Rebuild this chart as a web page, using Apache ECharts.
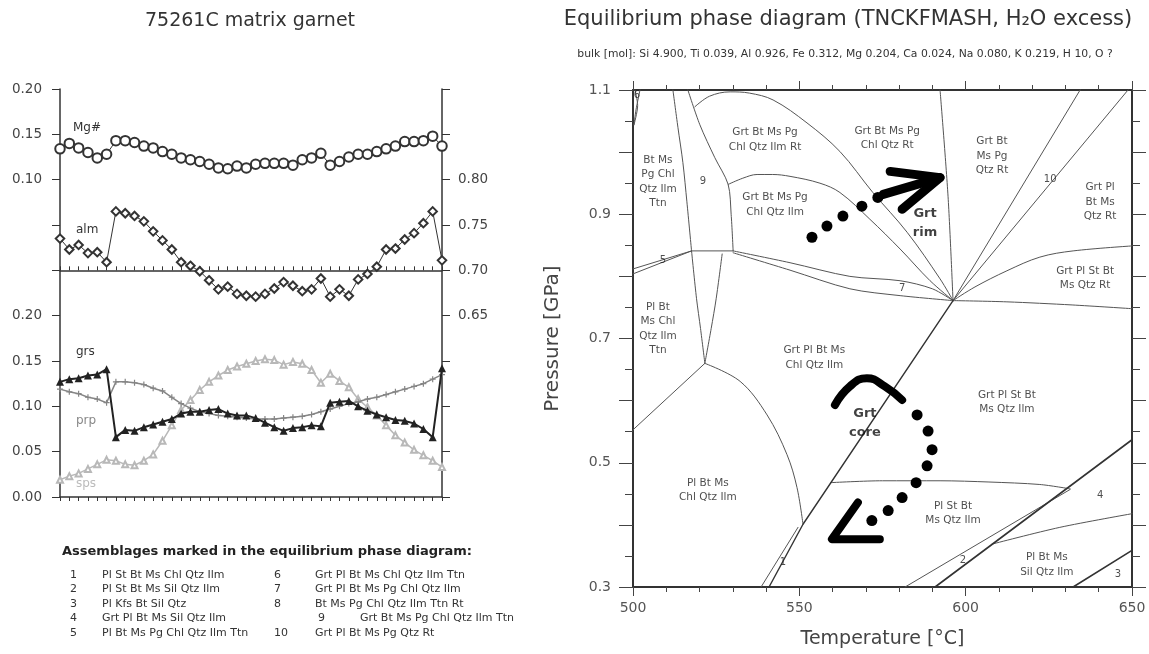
<!DOCTYPE html>
<html><head><meta charset="utf-8">
<script src="https://cdn.jsdelivr.net/npm/echarts@6/dist/echarts.min.js"></script>
<style>html,body{margin:0;padding:0;background:#fff}#c{width:1149px;height:654px}</style>
</head><body><div id="c"></div>
<script>
// ---------- Left panel: garnet profile (42 analysis spots) ----------
const spots = ['1','2','3','4','5','6','7','8','9','10','11','12','13','14','15','16','17','18','19','20','21','22','23','24','25','26','27','28','29','30','31','32','33','34','35','36','37','38','39','40','41','42'];
const mgNum = [0.134,0.140,0.135,0.130,0.124,0.128,0.143,0.143,0.141,0.137,0.135,0.131,0.128,0.124,0.122,0.120,0.117,0.113,0.112,0.115,0.113,0.117,0.118,0.118,0.118,0.116,0.122,0.124,0.129,0.116,0.120,0.125,0.128,0.128,0.131,0.134,0.137,0.142,0.142,0.143,0.148,0.137];
const alm = [0.735,0.723,0.728,0.719,0.720,0.709,0.765,0.763,0.760,0.754,0.743,0.733,0.723,0.709,0.705,0.699,0.689,0.679,0.682,0.674,0.672,0.671,0.674,0.680,0.687,0.683,0.677,0.679,0.691,0.671,0.679,0.672,0.690,0.696,0.704,0.723,0.724,0.734,0.741,0.752,0.765,0.711];
const grs = [0.127,0.130,0.131,0.134,0.135,0.141,0.066,0.074,0.073,0.077,0.080,0.083,0.086,0.092,0.094,0.094,0.096,0.097,0.092,0.090,0.090,0.087,0.082,0.077,0.073,0.076,0.077,0.079,0.078,0.104,0.105,0.106,0.100,0.095,0.091,0.088,0.085,0.084,0.081,0.075,0.066,0.142];
const prp = [0.119,0.116,0.114,0.110,0.108,0.104,0.127,0.127,0.126,0.124,0.120,0.117,0.110,0.103,0.098,0.094,0.092,0.090,0.089,0.088,0.087,0.086,0.086,0.086,0.087,0.088,0.089,0.091,0.094,0.097,0.100,0.103,0.105,0.108,0.110,0.113,0.116,0.119,0.122,0.125,0.130,0.135];
const sps = [0.019,0.023,0.026,0.031,0.036,0.041,0.040,0.036,0.035,0.040,0.047,0.062,0.079,0.096,0.107,0.118,0.127,0.134,0.140,0.144,0.147,0.150,0.152,0.151,0.146,0.149,0.147,0.140,0.126,0.136,0.128,0.121,0.108,0.099,0.090,0.079,0.068,0.060,0.052,0.046,0.040,0.033];

// ---------- Right panel: phase boundaries [T (°C), P (GPa)] ----------
const bnd6a = [[502.1,1.1],[500.9,1.068],[500.3,1.044]];
const bnd6b = [[500.6,1.1],[501.4,1.075],[500.3,1.044]];
const bndA = [[512.0,1.1],[513.5,1.04],[515.0,0.983],[516.2,0.92],[517.6,0.841]];
const bndB = [[516.5,1.1],[520.1,1.044],[524.6,0.991],[528.6,0.948],[529.5,0.9],[530.1,0.841]];
const bndTop = [[518.6,1.073],[523.0,1.090],[529.2,1.097],[535.0,1.095],[542.1,1.084],[552.3,1.047],[562.2,1.001],[572.1,0.935],[582.4,0.871],[592.3,0.796],[596.2,0.761]];
const bndMid = [[528.6,0.948],[533.0,0.958],[537.3,0.964],[542.0,0.964],[547.2,0.961],[556.2,0.950],[562.2,0.935],[571.2,0.892],[580.3,0.844],[589.3,0.793],[596.2,0.761]];
const bndFlat = [[517.6,0.841],[530.1,0.841]];
const bnd5a = [[500,0.812],[517.6,0.841]];
const bnd5b = [[500,0.804],[517.6,0.841]];
const bndV1 = [[517.6,0.841],[519.1,0.764],[520.3,0.716],[521.6,0.66]];
const bndV2 = [[526.8,0.836],[525.0,0.764],[523.5,0.716],[521.6,0.66]];
const bnd7a = [[530.1,0.841],[547.2,0.822],[565.2,0.800],[580.3,0.793],[590.0,0.780],[596.2,0.761]];
const bnd7b = [[530.1,0.838],[547.2,0.810],[565.2,0.780],[580.3,0.769],[596.2,0.761]];
const bndLow = [[521.6,0.66],[500,0.553]];
const bndArc = [[521.6,0.66],[532.2,0.631],[540.3,0.577],[546.3,0.513],[549.3,0.46],[551.1,0.401]];
const bndR = [[540.9,0.3],[551.1,0.401],[596.2,0.761]];
const bndR1 = [[538.5,0.3],[549.6,0.396]];
const bndU1 = [[592.3,1.1],[594.7,0.929],[596.2,0.761]];
const bndU2 = [[596.2,0.761],[634.4,1.1]];
const bndU3 = [[596.2,0.761],[648.8,1.1]];
const bndU4 = [[596.2,0.761],[602.8,0.783],[612.4,0.809],[622.3,0.831],[632.3,0.841],[650,0.849]];
const bndU5 = [[596.2,0.761],[612.4,0.759],[632.0,0.754],[650,0.748]];
const bndH = [[559.5,0.468],[575.0,0.471],[592.3,0.471],[607.0,0.469],[622.3,0.465],[631.4,0.458]];
const bnd2 = [[581.8,0.3],[631.4,0.457]];
const bnd4 = [[590.8,0.3],[650,0.537]];
const bndC = [[607.9,0.369],[628.3,0.396],[650,0.418]];
const bnd3 = [[632.3,0.3],[650,0.359]];

// P-T path
const coreArc = [[560.7,0.593],[565.2,0.623],[570.3,0.636],[575.7,0.623],[580.9,0.601]];
const retroDots = [[585.4,0.577],[588.7,0.551],[589.9,0.521],[588.4,0.495],[585.1,0.468],[580.9,0.444],[576.7,0.423],[571.8,0.407]];
const retroArrow = [[567.6,0.436],[559.8,0.377],[574.2,0.377]];
const progDots = [[553.8,0.863],[558.3,0.881],[563.1,0.897],[568.8,0.913],[573.6,0.927]];
const progShaft = [[575.2,0.932],[592.3,0.959]];
const progHead = [[577.3,0.969],[592.3,0.959],[580.9,0.908]];

// Field labels
const fieldLabels = [
 [507.5,0.952,'Bt Ms\nPg Chl\nQtz Ilm\nTtn'],
 [539.7,1.020,'Grt Bt Ms Pg\nChl Qtz Ilm Rt'],
 [542.7,0.915,'Grt Bt Ms Pg\nChl Qtz Ilm'],
 [576.4,1.022,'Grt Bt Ms Pg\nChl Qtz Rt'],
 [607.9,0.994,'Grt Bt\nMs Pg\nQtz Rt'],
 [640.4,0.920,'Grt Pl\nBt Ms\nQtz Rt'],
 [635.9,0.797,'Grt Pl St Bt\nMs Qtz Rt'],
 [507.5,0.716,'Pl Bt\nMs Chl\nQtz Ilm\nTtn'],
 [554.5,0.669,'Grt Pl Bt Ms\nChl Qtz Ilm'],
 [612.4,0.597,'Grt Pl St Bt\nMs Qtz Ilm'],
 [522.5,0.456,'Pl Bt Ms\nChl Qtz Ilm'],
 [596.2,0.419,'Pl St Bt\nMs Qtz Ilm'],
 [624.4,0.336,'Pl Bt Ms\nSil Qtz Ilm']
];
const numLabels = [[545.1,0.340,'1'],[599.2,0.343,'2'],[645.8,0.321,'3'],[640.4,0.447,'4'],[509.0,0.825,'5'],[501.2,1.092,'6'],[580.9,0.780,'7'],[521.0,0.953,'9'],[625.4,0.956,'10']];
const pathLabels = [[569.7,0.564,'Grt\ncore'],[587.8,0.886,'Grt\nrim']];

const yLabelsP = [0.3,0.5,0.7,0.9,1.1];
const assemblages = [
 ['1','Pl St Bt Ms Chl Qtz Ilm','6','Grt Pl Bt Ms Chl Qtz Ilm Ttn'],
 ['2','Pl St Bt Ms Sil Qtz Ilm','7','Grt Pl Bt Ms Pg Chl Qtz Ilm'],
 ['3','Pl Kfs Bt Sil Qtz','8','Bt Ms Pg Chl Qtz Ilm Ttn Rt'],
 ['4','Grt Pl Bt Ms Sil Qtz Ilm','9','Grt Bt Ms Pg Chl Qtz Ilm Ttn'],
 ['5','Pl Bt Ms Pg Chl Qtz Ilm Ttn','10','Grt Pl Bt Ms Pg Qtz Rt']
];

const FONT = 'DejaVu Sans';
const chart = echarts.init(document.getElementById('c'));

function bLine(data, opt) {
  opt = opt || {};
  return {type:'line', data:data, xAxisIndex:2, yAxisIndex:3, symbol:'none', showSymbol:false,
    smooth: opt.smooth || false, silent:true, animation:false, clip:false, z: opt.z || 2,
    lineStyle:{color: opt.color || '#555', width: opt.width || 1, cap:'round', join:'round', opacity:1}};
}
const boundaries = [
  [bnd6a,0.3],[bnd6b,0.3],[bndA,0.3],[bndB,0.3],[bndTop,0.35],[bndMid,0.35],[bndFlat,0],[bnd5a,0],[bnd5b,0],
  [bndV1,0.3],[bndV2,0.3],[bnd7a,0.3],[bnd7b,0.3],[bndLow,0],[bndArc,0.35],[bndR1,0],[bndU1,0.3],
  [bndU2,0],[bndU3,0],[bndU4,0.35],[bndU5,0.3],[bndH,0.3],[bnd2,0],[bndC,0.3]
];
const series = [];
function prof(name, data, yi, sym, size, color, lw, z) {
  return {type:'line', name:name, data:data, xAxisIndex:0, yAxisIndex:yi, symbol:sym, symbolSize:size,
    showSymbol:true, showAllSymbol:true, itemStyle:{color:color, borderWidth:1.1, opacity:1}, lineStyle:{color:color, width:lw},
    animation:false, z:z};
}
series.push(prof('Mg#', mgNum, 1, 'emptyCircle', 9.5, '#333', 1, 3));
series.push(prof('alm', alm, 2, 'emptyDiamond', 8.5, '#333', 1, 3));
series.push(prof('sps', sps, 0, 'emptyTriangle', 6, '#b8b8b8', 1.5, 2));
series.push(prof('prp', prp, 0, 'path://M4,0h2v4h4v2h-4v4h-2v-4h-4v-2h4z', 6, '#858585', 1.5, 3));
series.push(prof('grs', grs, 0, 'triangle', 8, '#222', 2, 4));
// right panel boundaries
boundaries.forEach(function(b){ series.push(bLine(b[0], {smooth:b[1]})); });
series.push(bLine(bndR, {width:1.4, color:'#333'}));
series.push(bLine(bnd4, {width:1.6, color:'#333'}));
series.push(bLine(bnd3, {width:1.6, color:'#333'}));
// P-T path
series.push(bLine(coreArc, {width:8, color:'#000', smooth:0.5, z:5}));
series.push(bLine(retroArrow, {width:8, color:'#000', z:5}));
series.push(bLine(progShaft, {width:9, color:'#000', z:5}));
series.push(bLine(progHead, {width:9, color:'#000', z:5}));
series.push({type:'scatter', data:retroDots.concat(progDots), xAxisIndex:2, yAxisIndex:3, symbol:'circle', symbolSize:11,
  itemStyle:{color:'#000', opacity:1}, silent:true, animation:false, z:5});
function textSeries(data, style, z) {
  return {type:'scatter', data:data, xAxisIndex:2, yAxisIndex:3, symbolSize:1, itemStyle:{color:'rgba(0,0,0,0)'},
    silent:true, animation:false, clip:false, z:z || 6,
    label:Object.assign({show:true, position:'inside', formatter:function(p){return p.value[2];}, fontFamily:FONT, align:'center', verticalAlign:'middle'}, style)};
}
series.push(textSeries(fieldLabels, {fontSize:10.5, lineHeight:14.5, color:'#222'}));
series.push(textSeries(numLabels, {fontSize:10, color:'#222'}));
series.push(textSeries(pathLabels, {fontSize:13, fontWeight:'bold', lineHeight:19, color:'#111'}));

// graphics (titles, series names, assemblage list)
const graphics = [];
function txt(x, y, t, o) {
  o = o || {};
  graphics.push({type:'text', x:x, y:y, silent:true, style:{text:t, fontFamily:FONT, fontSize:o.size||12,
    fontWeight:o.weight||'normal', fill:o.color||'#333', align:o.align||'left', verticalAlign:'middle'}});
}
txt(250, 21, '75261C matrix garnet', {size:19, align:'center', color:'#333'});
txt(848, 20, 'Equilibrium phase diagram (TNCKFMASH, H\u2082O excess)', {size:21, align:'center', color:'#333'});
txt(845, 54, 'bulk [mol]: Si 4.900, Ti 0.039, Al 0.926, Fe 0.312, Mg 0.204, Ca 0.024, Na 0.080, K 0.219, H 10, O ?', {size:10.8, align:'center', color:'#333'});
txt(73, 128, 'Mg#', {size:12, color:'#333'});
txt(76, 230, 'alm', {size:12, color:'#333'});
txt(76, 352, 'grs', {size:12, color:'#333'});
txt(76, 421, 'prp', {size:12, color:'#888'});
txt(76, 484, 'sps', {size:12, color:'#bbb'});
txt(62, 552, 'Assemblages marked in the equilibrium phase diagram:', {size:13, weight:'bold', color:'#222'});
assemblages.forEach(function(r, i){
  const y = 575 + i*14.5;
  const o = {size:11};
  txt(70, y, r[0], o);
  txt(102, y, r[1], o);
  if (i === 3) { txt(318, y, r[2], o); txt(360, y, r[3], o); }
  else { txt(274, y, r[2], o); txt(315, y, r[3], o); }
});

const axLine = {show:true, lineStyle:{color:'#333', width:1.5}};
const option = {
  backgroundColor:'#fff',
  animation:false,
  grid:[{left:60, top:89, width:382, height:408}, {left:633, top:90, width:499, height:500}],
  xAxis:[
    {type:'category', gridIndex:0, data:spots, boundaryGap:false, position:'bottom', axisLine:axLine,
      axisTick:{show:true, interval:0, length:4, lineStyle:{color:'#333'}}, axisLabel:{show:false}, splitLine:{show:false}},
    {type:'category', gridIndex:0, data:spots, boundaryGap:false, position:'top', axisLine:axLine,
      axisTick:{show:true, interval:0, length:4, lineStyle:{color:'#333'}}, axisLabel:{show:false}, splitLine:{show:false}},
    {type:'value', gridIndex:1, min:500, max:650, interval:50, position:'bottom',
      name:'Temperature [\u00B0C]', nameLocation:'middle', nameGap:43, nameTextStyle:{fontFamily:FONT, fontSize:19, color:'#444'},
      axisLine:{show:true, lineStyle:{color:'#333', width:2}},
      axisTick:{show:true, length:9, lineStyle:{color:'#444'}}, minorTick:{show:true, splitNumber:5, length:5, lineStyle:{color:'#444'}},
      axisLabel:{show:true, margin:14, fontFamily:FONT, fontSize:14, color:'#555'}, splitLine:{show:false}, minorSplitLine:{show:false}},
    {type:'value', gridIndex:1, min:500, max:650, interval:50, position:'top',
      axisLine:{show:true, lineStyle:{color:'#333', width:2}},
      axisTick:{show:true, length:9, lineStyle:{color:'#444'}}, minorTick:{show:true, splitNumber:5, length:5, lineStyle:{color:'#444'}},
      axisLabel:{show:false}, splitLine:{show:false}, minorSplitLine:{show:false}}
  ],
  yAxis:[
    {type:'value', gridIndex:0, min:0, max:0.45, interval:0.05, position:'left', axisLine:axLine,
      axisTick:{show:true, length:8, lineStyle:{color:'#333'}},
      axisLabel:{show:true, margin:18, fontFamily:FONT, fontSize:13.5, color:'#444',
        formatter:function(v){ return v < 0.201 ? v.toFixed(2) : ''; }}, splitLine:{show:false}},
    {type:'value', gridIndex:0, min:-0.25, max:0.20, interval:0.05, position:'left', axisLine:{show:false}, axisTick:{show:false},
      axisLabel:{show:true, margin:18, fontFamily:FONT, fontSize:13.5, color:'#444',
        formatter:function(v){ return v > 0.099 ? v.toFixed(2) : ''; }}, splitLine:{show:false}},
    {type:'value', gridIndex:0, min:0.45, max:0.90, interval:0.05, position:'right', axisLine:axLine,
      axisTick:{show:true, length:8, lineStyle:{color:'#333'}},
      axisLabel:{show:true, margin:16, fontFamily:FONT, fontSize:13.5, color:'#444',
        formatter:function(v){ return (v > 0.649 && v < 0.801) ? v.toFixed(2) : ''; }}, splitLine:{show:false}},
    {type:'value', gridIndex:1, min:0.3, max:1.1, interval:0.1, position:'left',
      name:'Pressure [GPa]', nameLocation:'middle', nameGap:70, nameRotate:90, nameTextStyle:{fontFamily:FONT, fontSize:20, color:'#444'},
      axisLine:{show:true, lineStyle:{color:'#333', width:2}},
      axisTick:{show:true, length:14, lineStyle:{color:'#444'}}, minorTick:{show:true, splitNumber:2, length:8, lineStyle:{color:'#444'}},
      axisLabel:{show:true, margin:22, fontFamily:FONT, fontSize:14, color:'#555',
        formatter:function(v){ return yLabelsP.some(function(t){return Math.abs(t-v)<1e-6;}) ? v.toFixed(1) : ''; }},
      splitLine:{show:false}, minorSplitLine:{show:false}},
    {type:'value', gridIndex:1, min:0.3, max:1.1, interval:0.1, position:'right',
      axisLine:{show:true, lineStyle:{color:'#333', width:2}},
      axisTick:{show:true, length:14, lineStyle:{color:'#444'}}, minorTick:{show:true, splitNumber:2, length:8, lineStyle:{color:'#444'}},
      axisLabel:{show:false}, splitLine:{show:false}, minorSplitLine:{show:false}}
  ],
  graphic: graphics,
  series: series
};
chart.setOption(option);
</script>
</body></html>
